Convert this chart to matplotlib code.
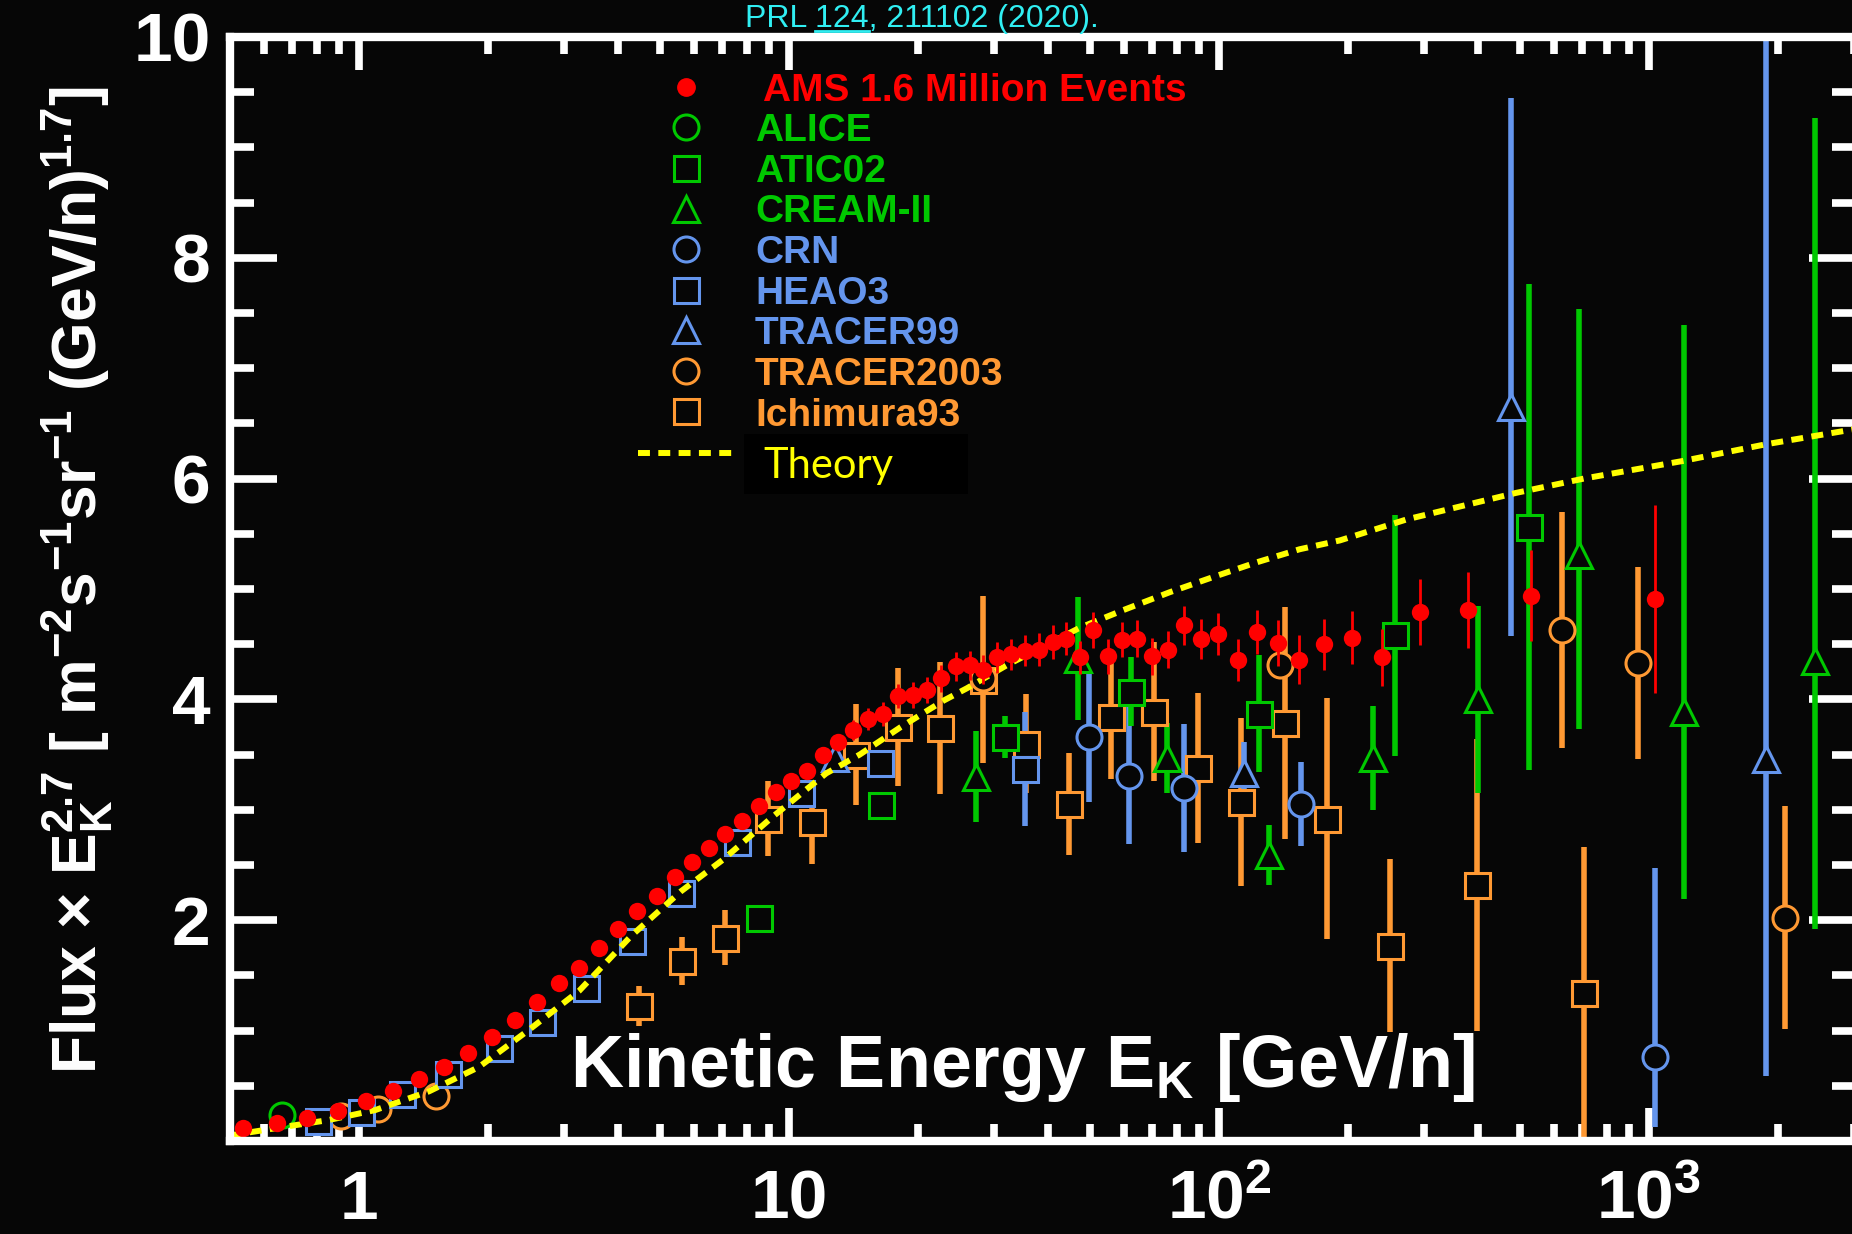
import matplotlib
matplotlib.use("Agg")
import matplotlib.pyplot as plt
from matplotlib import font_manager
from matplotlib.lines import Line2D
from matplotlib.patches import Rectangle
from matplotlib.ticker import FixedLocator, MultipleLocator, NullFormatter

# Oxygen flux x E_K^2.7, AMS compared with earlier experiments
ams_energy = [0.537, 0.646, 0.758, 0.894, 1.036, 1.20, 1.379, 1.58, 1.795, 2.04,
              2.31, 2.60, 2.91, 3.25, 3.61, 4.01, 4.44, 4.92, 5.42, 5.94,
              6.51, 7.11, 7.79, 8.50, 9.31, 10.1, 11.0, 12.0, 13.0, 14.1,
              15.3, 16.5, 17.9, 19.4, 20.9, 22.6, 24.4, 26.3, 28.3, 30.5,
              32.8, 35.3, 38.1, 41.0, 44.1, 47.5, 51.0, 55.1, 59.5, 64.3,
              69.7, 76.1, 83.0, 91.0, 99.6, 110.5, 122.4, 136.9, 153.8, 175.8,
              204, 240, 293, 380, 533, 1035]
ams_flux = [0.115, 0.16, 0.205, 0.27, 0.36, 0.45, 0.56, 0.67, 0.80, 0.94,
            1.10, 1.26, 1.43, 1.57, 1.75, 1.92, 2.08, 2.22, 2.39, 2.53,
            2.65, 2.78, 2.90, 3.03, 3.16, 3.26, 3.35, 3.50, 3.61, 3.72,
            3.82, 3.87, 4.03, 4.04, 4.085, 4.19, 4.30, 4.31, 4.27, 4.38,
            4.41, 4.44, 4.45, 4.52, 4.55, 4.38, 4.63, 4.39, 4.54, 4.55,
            4.39, 4.45, 4.67, 4.55, 4.59, 4.36, 4.61, 4.51, 4.36, 4.50,
            4.56, 4.38, 4.79, 4.81, 4.94, 4.91]
ams_err = [0.03, 0.03, 0.03, 0.03, 0.03, 0.03, 0.03, 0.03, 0.03, 0.03,
           0.03, 0.03, 0.03, 0.03, 0.03, 0.03, 0.03, 0.03, 0.03, 0.03,
           0.04, 0.04, 0.05, 0.05, 0.06, 0.06, 0.07, 0.07, 0.08, 0.09,
           0.10, 0.11, 0.11, 0.12, 0.12, 0.12, 0.13, 0.13, 0.13, 0.14,
           0.14, 0.14, 0.15, 0.15, 0.15, 0.15, 0.16, 0.16, 0.16, 0.17,
           0.17, 0.17, 0.18, 0.18, 0.19, 0.19, 0.20, 0.21, 0.22, 0.23,
           0.24, 0.26, 0.30, 0.34, 0.41, 0.85]

alice_energy = [0.663]
alice_flux = [0.235]

atic_energy = [8.52, 16.4, 31.8, 62.3, 124, 256, 527]
atic_flux = [2.02, 3.04, 3.66, 4.07, 3.87, 4.58, 5.56]
atic_err = [0, 0, 0.19, 0.31, 0.53, 1.09, 2.2]

cream_energy = [27.2, 47.1, 75.5, 131, 228, 400, 686, 1206, 2430]
cream_flux = [3.30, 4.37, 3.47, 2.59, 3.47, 4.00, 5.31, 3.89, 4.35]
cream_lo = [0.41, 0.56, 0.32, 0.27, 0.47, 0.85, 1.58, 1.70, 2.43]
cream_hi = [0.41, 0.56, 0.32, 0.27, 0.47, 0.85, 2.23, 3.50, 4.92]

crn_energy = [49.9, 61.7, 83.0, 155, 1035]
crn_flux = [3.66, 3.31, 3.20, 3.05, 0.76]
crn_lo = [0.59, 0.62, 0.58, 0.38, 0.63]
crn_hi = [0.59, 0.62, 0.58, 0.38, 1.71]

heao_energy = [0.804, 1.01, 1.257, 1.613, 2.115, 2.66, 3.37, 4.32, 5.6, 7.55,
               10.66, 16.3, 35.3]
heao_flux = [0.18, 0.265, 0.43, 0.61, 0.845, 1.08, 1.39, 1.81, 2.25, 2.71,
             3.15, 3.42, 3.37]
heao_err = [0, 0, 0, 0, 0, 0, 0, 0, 0, 0, 0, 0.05, 0.52]

tracer99_energy = [12.8, 114.5, 477, 1872]
tracer99_flux = [3.47, 3.33, 6.65, 3.46]
tracer99_lo = [0, 0.28, 2.08, 2.87]
tracer99_hi = [0, 0.28, 2.80, 6.60]

tracer03_energy = [0.906, 1.107, 1.508, 28.2, 138.4, 627, 942, 2069]
tracer03_flux = [0.226, 0.29, 0.41, 4.19, 4.31, 4.63, 4.33, 2.02]
tracer03_err = [0, 0, 0, 0, 0, 1.07, 0.87, 1.01]

ichimura_energy = [4.48, 5.65, 7.11, 8.93, 11.3, 14.3, 17.9, 22.5, 28.3, 35.5,
                   44.8, 56.2, 70.6, 89.2, 112.2, 142.4, 178.2, 250, 399, 707]
ichimura_flux = [1.22, 1.63, 1.84, 2.92, 2.89, 3.50, 3.75, 3.74, 4.18, 3.60,
                 3.05, 3.84, 3.89, 3.38, 3.07, 3.79, 2.92, 1.77, 2.32, 1.34]
ichimura_err = [0.18, 0.22, 0.25, 0.34, 0.38, 0.46, 0.53, 0.60, 0.76, 0.45,
                0.46, 0.56, 0.63, 0.68, 0.76, 1.05, 1.09, 0.78, 1.32, 1.32]

theory_energy = [0.5, 0.675, 0.85, 1.09, 1.455, 1.9, 2.49, 3.25, 4.3, 5.6,
                 7.03, 9.18, 12.2, 14.6, 18.2, 22.9, 25.9, 32.1, 47.5, 60,
                 76.7, 97.2, 122, 154, 191, 273, 490, 705, 1200, 1865, 3030]
theory_flux = [0.05, 0.13, 0.19, 0.28, 0.45, 0.67, 1.01, 1.36, 1.86, 2.26,
               2.55, 2.94, 3.33, 3.50, 3.75, 3.99, 4.10, 4.31, 4.65, 4.81,
               4.97, 5.11, 5.24, 5.36, 5.44, 5.63, 5.87, 6.00, 6.16, 6.31, 6.45]

legend_labels = ["AMS 1.6 Million Events", "ALICE", "ATIC02", "CREAM-II", "CRN",
                 "HEAO3", "TRACER99", "TRACER2003", "Ichimura93"]

RED = "#ff0000"
GREEN = "#00c800"
BLUE = "#6495ed"
ORANGE = "#ff9933"
YELLOW = "#ffff00"
BG = "#060606"

W, H = 1852, 1234

installed = {f.name for f in font_manager.fontManager.ttflist}
narrow = "Liberation Sans Narrow" in installed

plt.rcParams.update({
    "font.family": "Liberation Sans",
    "font.weight": "bold",
    "mathtext.fontset": "custom",
    "mathtext.rm": "Liberation Sans:bold",
    "mathtext.it": "Liberation Sans:bold:italic",
    "mathtext.bf": "Liberation Sans:bold",
    "mathtext.sf": "Liberation Sans:bold",
    "mathtext.default": "rm",
})


def fx(px):
    return px / W


def fy(py):
    return 1 - py / H


fig = plt.figure(figsize=(W / 100, H / 100), dpi=100, facecolor=BG)
ax = fig.add_axes([fx(230), fy(1141), 1626 / W, 1104 / H])
ax.set_facecolor(BG)
ax.set_xscale("log")
ax.set_xlim(0.501, 3030)
ax.set_ylim(0, 10)

OPEN_MS = 18


def open_points(x, y, lo, hi, marker, color, ms=OPEN_MS):
    ax.errorbar(x, y, yerr=[lo, hi], fmt=marker, ms=ms, mfc=BG, mec=color,
                mew=2.2, ecolor=color, elinewidth=4, capsize=0, zorder=3)


zeros = lambda n: [0] * n

open_points(alice_energy, alice_flux, zeros(1), zeros(1), "o", GREEN)
open_points(ichimura_energy, ichimura_flux, ichimura_err, ichimura_err, "s", ORANGE)
open_points(tracer03_energy, tracer03_flux, tracer03_err, tracer03_err, "o", ORANGE)
open_points(heao_energy, heao_flux, heao_err, heao_err, "s", BLUE)
open_points(crn_energy, crn_flux, crn_lo, crn_hi, "o", BLUE)
open_points(tracer99_energy, tracer99_flux, tracer99_lo, tracer99_hi, "^", BLUE, ms=18.5)
open_points(atic_energy, atic_flux, atic_err, atic_err, "s", GREEN)
open_points(cream_energy, cream_flux, cream_lo, cream_hi, "^", GREEN, ms=18.5)

ax.plot(theory_energy, theory_flux, color=YELLOW, lw=4.3, ls=(0, (2.0, 1.4)), zorder=5)

ax.errorbar(ams_energy, ams_flux, yerr=ams_err, fmt="o", ms=12.5, color=RED, mew=0,
            ecolor=RED, elinewidth=2, capsize=0, zorder=6)

# axes frame and ticks
for s in ax.spines.values():
    s.set_color("white")
    s.set_linewidth(6)
    s.set_zorder(10)

ax.xaxis.set_major_locator(FixedLocator([1, 10, 100, 1000]))
minor_x = [m * 10.0 ** d for d in range(-1, 4) for m in range(2, 10)]
ax.xaxis.set_minor_locator(FixedLocator([v for v in minor_x if 0.5 <= v <= 3000]))
ax.xaxis.set_minor_formatter(NullFormatter())
ax.set_xticklabels(["1", "10", "$10^2$", "$10^3$"])
ax.set_yticks([2, 4, 6, 8, 10])
ax.set_yticklabels(["2", "4", "6", "8", "10"])
ax.yaxis.set_minor_locator(MultipleLocator(0.5))

ax.tick_params(which="both", direction="in", top=True, right=True,
               colors="white", width=5.5)
ax.tick_params(axis="x", which="major", length=24, pad=56, labelsize=50)
ax.tick_params(axis="x", which="minor", length=12)
ax.tick_params(axis="y", which="major", length=34, pad=14, labelsize=50)
ax.tick_params(axis="y", which="minor", length=17)
for lab in ax.get_xticklabels():
    lab.set_va("baseline")
for lab in ax.get_yticklabels():
    lab.set_va("center_baseline")

# axis titles
ylabel = "Flux × E$_{K}^{2.7}$ [ m$^{-2}$s$^{-1}$sr$^{-1}$ (GeV/n)$^{1.7}$]"
if narrow:
    fig.text(fx(96), fy(580), ylabel, rotation=90, rotation_mode="anchor",
             ha="center", va="baseline", color="white", fontsize=55,
             family=["Liberation Sans Narrow", "Liberation Sans"])
else:
    fig.text(fx(96), fy(580), ylabel, rotation=90, rotation_mode="anchor",
             ha="center", va="baseline", color="white", fontsize=45)

fig.text(fx(570), fy(1087), "Kinetic Energy E$_{K}$ [GeV/n]", color="white",
         fontsize=53, va="baseline", zorder=12)

# legend
legend_colors = [RED, GREEN, GREEN, GREEN, BLUE, BLUE, BLUE, ORANGE, ORANGE]
legend_markers = ["o", "o", "s", "^", "o", "s", "^", "o", "s"]
for i, (lab, col, mk) in enumerate(zip(legend_labels, legend_colors, legend_markers)):
    row = 86.7 + 40.6 * i
    if i == 0:
        fig.add_artist(Line2D([fx(686)], [fy(row)], transform=fig.transFigure,
                              marker="o", ms=12.5, mfc=RED, mec=RED, ls="none"))
        fig.text(fx(763), fy(row + 14), lab, color=col, fontsize=28, va="baseline")
    else:
        fig.add_artist(Line2D([fx(686)], [fy(row)], transform=fig.transFigure,
                              marker=mk, ms=OPEN_MS if mk != "^" else 18.5, mfc=BG,
                              mec=col, mew=2.2, ls="none"))
        fig.text(fx(755), fy(row + 14), lab, color=col, fontsize=28, va="baseline")

fig.add_artist(Line2D([fx(638), fx(732)], [fy(453), fy(453)], transform=fig.transFigure,
                      color=YELLOW, lw=4.3, ls=(0, (2.0, 1.4))))
fig.add_artist(Rectangle((fx(744), fy(494)), 224 / W, 60 / H, transform=fig.transFigure,
                         facecolor="black", edgecolor="none"))
fig.text(fx(763), fy(478), "Theory", color=YELLOW, fontsize=30, family="Lato",
         weight="normal", va="baseline", zorder=12)

# citation line above the frame
ref_x = 745
ref_kw = dict(color="#30eef2", fontsize=23, weight="normal", va="baseline")
ref = fig.text(fx(ref_x), fy(27), "PRL 124, 211102 (2020).", **ref_kw)
renderer = fig.canvas.get_renderer()
w_head = fig.text(0, 0, "PRL 124", **ref_kw)
w_num = fig.text(0, 0, "124", **ref_kw)
end_px = w_head.get_window_extent(renderer).width
num_px = w_num.get_window_extent(renderer).width
w_head.remove()
w_num.remove()
fig.add_artist(Line2D([fx(ref_x + end_px - num_px), fx(ref_x + end_px)], [fy(31), fy(31)],
                      transform=fig.transFigure, color="#30eef2", lw=2))

fig.savefig("out.png", dpi=100, facecolor=BG)
